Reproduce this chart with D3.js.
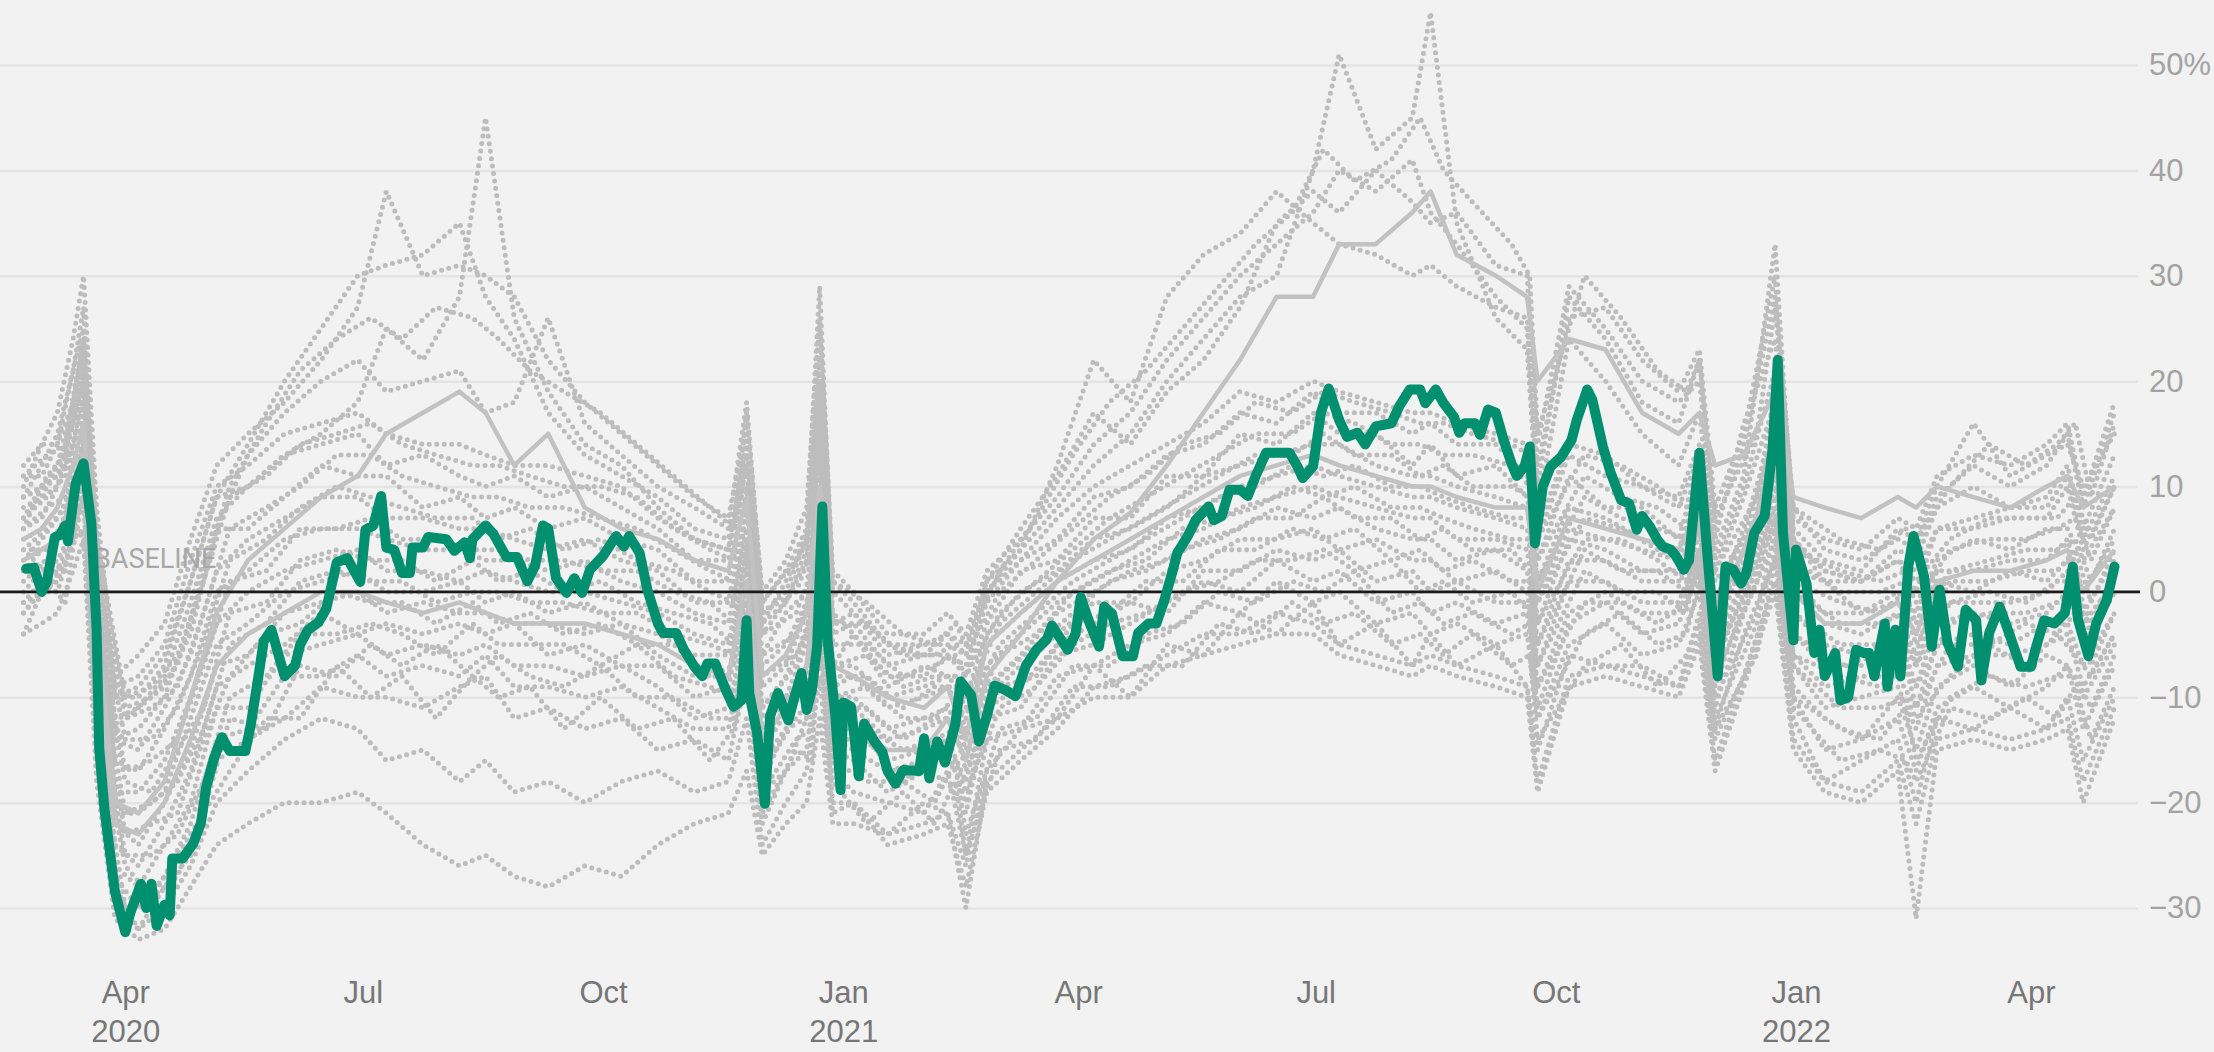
<!DOCTYPE html>
<html>
<head>
<meta charset="utf-8">
<script src="https://cdnjs.cloudflare.com/ajax/libs/d3/7.8.5/d3.min.js"></script>
<style>
  body { margin: 0; background: #f2f2f2; }
  svg { display: block; font-family: Roboto, "Noto Sans", sans-serif; }
</style>
</head>
<body>
<svg id="chart" width="2214" height="1052"></svg>
<script>

// ---- data ----
var yTicks = [-30, -20, -10, 0, 10, 20, 30, 40, 50];
var xTicks = ["2020-04-01","2020-07-01","2020-10-01","2021-01-01","2021-04-01","2021-07-01","2021-10-01","2022-01-01","2022-04-01"];
var xTickMonths = ["Apr","Jul","Oct","Jan","Apr","Jul","Oct","Jan","Apr"];
var xTickYears = ["2020","","","2021","","","","2022",""];

// two sets of sample dates for the grey lines
var greyDates = [
  "2020-02-22","2020-02-29","2020-03-06","2020-03-12","2020-03-16","2020-03-21","2020-03-28","2020-04-06","2020-04-16","2020-04-26",
  "2020-05-06","2020-05-18","2020-06-01","2020-06-15","2020-06-29","2020-07-10","2020-07-24","2020-08-07","2020-08-17","2020-08-28",
  "2020-09-10","2020-09-24","2020-10-08","2020-10-22","2020-11-05","2020-11-18","2020-11-25","2020-12-01","2020-12-10","2020-12-18",
  "2020-12-23","2020-12-28","2021-01-05","2021-01-18","2021-02-01","2021-02-10","2021-02-17","2021-02-25","2021-03-10","2021-03-24",
  "2021-04-07","2021-04-21","2021-05-05","2021-05-19","2021-06-02","2021-06-16","2021-06-30","2021-07-10","2021-07-24","2021-08-07",
  "2021-08-14","2021-08-24","2021-09-08","2021-09-20","2021-09-24","2021-10-06","2021-10-20","2021-11-03","2021-11-17","2021-11-25",
  "2021-12-01","2021-12-12","2021-12-24","2021-12-31","2022-01-12","2022-01-26","2022-02-09","2022-02-16","2022-02-24","2022-03-10",
  "2022-03-24","2022-04-07","2022-04-15","2022-04-21","2022-05-03"
];
var greyDatesB = [
  "2020-02-22","2020-03-02","2020-03-09","2020-03-13","2020-03-16","2020-03-21","2020-04-01","2020-04-11","2020-04-21","2020-05-01",
  "2020-05-11","2020-05-25","2020-06-07","2020-06-21","2020-07-04","2020-07-16","2020-07-29","2020-08-12","2020-08-22","2020-09-03",
  "2020-09-16","2020-09-30","2020-10-14","2020-10-28","2020-11-11","2020-11-20","2020-11-25","2020-12-01","2020-12-14","2020-12-20",
  "2020-12-23","2020-12-28","2021-01-10","2021-01-24","2021-02-05","2021-02-13","2021-02-17","2021-03-02","2021-03-16","2021-03-30",
  "2021-04-13","2021-04-27","2021-05-11","2021-05-25","2021-06-08","2021-06-22","2021-07-04","2021-07-16","2021-07-30","2021-08-10",
  "2021-08-19","2021-08-30","2021-09-14","2021-09-21","2021-09-24","2021-10-12","2021-10-26","2021-11-09","2021-11-20","2021-11-25",
  "2021-12-01","2021-12-17","2021-12-24","2021-12-31","2022-01-18","2022-02-02","2022-02-12","2022-02-16","2022-03-01","2022-03-16",
  "2022-03-30","2022-04-11","2022-04-18","2022-04-24","2022-05-03"
];

// dotted grey lines (other states), sampled on greyDates
var dotted1 = [-4,0,0,5,6,-15,-28,-32,-28,-25,-16,-14,-12,-9,-10,
  -10,-11,-9,-8,-12,-11,-13,-12,-15,-14,-16,-8,-22,-17,-15,
  -5,-20,-20,-23,-20,-21,-26,-17,-13,-12,-7,-10,-5,-6,-2,
  -4,-1,-5,-3,-7,-4,-7,-5,-9,-15,-6,-7,-7,-9,-2,
  -14,-8,1,-12,-18,-16,-14,-20,-12,-13,-11,-13,-10,-16,-10];
var dotted2 = [-1,1,2,6,9,-11,-27,-30,-27,-22,-14,-13,-8,-8,-6,
  -8,-7,-8,-6,-9,-9,-10,-9,-11,-13,-13,-5,-19,-17,-12,
  -2,-17,-19,-20,-21,-17,-25,-14,-13,-8,-7,-5,-4,-1,-2,
  1,-1,0,-3,-2,-4,-3,-5,-4,-12,-5,-3,-6,-5,0,
  -13,-4,3,-10,-15,-14,-12,-17,-11,-9,-11,-9,-7,-13,-7];
var dotted3 = [0,2,3,6,11,-9,-26,-28,-24,-20,-11,-11,-6,-5,-4,
  -6,-5,-6,-5,-7,-7,-8,-7,-9,-12,-11,-3,-18,-13,-12,
  1,-15,-16,-19,-17,-18,-21,-12,-11,-6,-5,-3,-1,1,0,
  3,1,2,-1,0,-2,-1,-3,-2,-11,-3,-1,-4,-3,2,
  -11,-2,5,-9,-12,-14,-10,-15,-9,-7,-9,-6,-7,-10,-5];
var dotted4 = [2,1,5,8,13,-8,-24,-26,-22,-17,-9,-7,-5,-2,-4,
  -3,-4,-3,-4,-3,-6,-5,-7,-7,-10,-9,-1,-16,-13,-8,
  2,-14,-15,-17,-16,-15,-20,-11,-9,-5,-3,-1,-2,2,2,
  4,3,4,1,2,0,1,-1,-1,-9,-2,0,-2,-2,3,
  -9,-1,7,-7,-11,-10,-9,-13,-7,-6,-6,-5,-4,-9,-4];
var dotted5 = [2,4,5,10,12,-7,-22,-24,-20,-15,-7,-6,-2,-1,0,
  -2,-1,-2,-2,-3,-3,-4,-3,-6,-8,-8,1,-14,-11,-7,
  3,-13,-13,-16,-15,-14,-18,-10,-7,-4,-1,-1,2,3,5,
  5,6,4,5,3,3,1,2,0,-7,1,1,-1,-1,4,
  -7,0,8,-6,-9,-8,-8,-11,-5,-4,-5,-3,-3,-7,-2];
var dotted6 = [3,5,7,10,15,-5,-21,-21,-19,-12,-5,-3,0,1,2,
  0,0,1,-1,0,-2,-1,-3,-4,-6,-6,3,-12,-10,-5,
  5,-12,-11,-14,-13,-12,-16,-9,-6,-2,0,2,3,5,6,
  8,7,8,6,5,5,3,4,2,-5,3,3,1,1,6,
  -6,1,10,-4,-7,-7,-6,-9,-3,-2,-3,-2,0,-5,0];
var dotted7 = [5,6,8,12,17,-3,-19,-19,-16,-10,-3,0,2,3,4,
  2,2,1,2,1,0,0,-1,-2,-4,-5,4,-11,-8,-4,
  7,-10,-10,-13,-12,-11,-14,-7,-4,-1,1,3,5,6,8,
  9,10,9,8,7,7,5,5,4,-3,5,4,2,2,7,
  -4,3,11,-2,-5,-6,-4,-7,-1,-1,-1,0,2,-3,1];
var dotted8 = [6,7,10,14,19,-2,-16,-17,-13,-8,0,2,5,6,6,
  5,4,4,3,3,2,3,1,0,-2,-3,6,-9,-7,-2,
  9,-9,-8,-11,-10,-9,-12,-5,-2,1,3,4,7,8,10,
  11,12,11,10,9,9,8,7,6,-1,6,5,4,3,8,
  -3,4,13,0,-3,-4,-2,-6,1,0,2,1,3,-2,3];
var dotted9 = [7,9,10,16,20,0,-14,-15,-11,-6,2,5,7,9,9,
  7,7,6,6,5,4,5,3,2,-1,-1,8,-7,-5,-1,
  12,-7,-7,-10,-9,-8,-10,-4,0,2,5,6,8,11,12,
  13,14,14,12,11,11,10,9,8,1,8,7,5,4,10,
  -1,5,15,1,-2,-2,-1,-3,2,2,3,3,5,0,5];
var dotted10 = [9,10,11,17,21,1,-13,-11,-9,-4,6,6,9,12,11,
  11,8,9,7,8,6,7,5,4,1,1,9,-6,-2,0,
  13,-7,-4,-9,-7,-8,-8,-3,2,3,7,7,11,11,15,
  14,17,15,15,12,14,11,12,9,3,11,8,8,5,12,
  -1,6,16,2,1,-2,0,-2,3,5,4,6,6,3,8];
var dotted11 = [11,11,14,18,24,4,-10,-10,-7,1,9,10,13,14,15,
  12,13,11,10,11,9,10,8,6,3,3,12,-3,-1,3,
  17,-4,-3,-7,-6,-6,-7,-1,3,5,9,10,13,14,17,
  16,19,17,17,15,16,14,14,11,5,13,11,10,8,13,
  2,9,18,5,1,1,3,0,6,6,7,7,10,4,10];
var dotted12 = [12,14,14,21,25,6,-9,-8,-5,3,10,12,15,16,17,
  15,14,14,13,12,12,11,10,7,5,4,15,-2,0,5,
  19,-3,-2,-6,-5,-5,-6,0,3,7,10,12,14,16,19,
  18,20,19,18,17,17,16,15,14,6,14,13,10,9,14,
  3,10,21,5,2,1,3,2,6,7,8,8,11,5,11];
var dottedHigh1 = [10,14,17,24,30,8,-8,-6,-3,5,12,15,18,22,27,
  38,30,31,30,28,22,18,15,12,9,7,16,0,3,8,
  26,2,0,-4,-4,-2,-4,2,5,9,14,17,22,26,30,
  33,36,40,38,41,36,33,28,25,10,28,24,18,16,22,
  6,14,28,8,4,3,5,4,9,12,10,12,15,8,17];
var dottedHigh2 = [6,10,12,18,22,3,-12,-11,-8,-1,7,10,13,15,18,
  25,22,28,45,26,19,14,12,8,5,4,12,-4,-1,4,
  20,-2,-4,-8,-8,-6,-8,0,4,8,12,15,20,24,28,
  30,40,51,42,45,55,35,26,23,8,24,20,15,12,17,
  4,11,33,5,2,1,4,3,8,10,8,9,12,6,13];
var dottedHigh3 = [8,9,12,16,21,2,-14,-13,-10,-3,6,13,17,20,22,
  19,20,21,17,18,26,16,13,10,8,6,18,-1,2,6,
  29,0,-2,-5,-5,-4,-5,1,6,11,17,14,19,22,27,
  35,38,36,40,37,35,36,31,30,14,29,25,20,18,20,
  5,16,24,6,3,2,6,5,10,16,11,13,14,10,15];
var dottedHigh4 = [9,12,15,21,27,6,-10,-9,-6,1,9,14,20,25,30,
  31,32,35,28,24,17,13,11,9,6,5,14,-3,1,5,
  22,1,-1,-5,-6,-4,-6,1,4,12,22,18,28,32,34,
  38,35,33,32,30,31,29,27,26,12,26,27,22,19,23,
  8,15,30,7,5,4,7,6,11,13,12,14,16,9,18];
var dottedLow1 = [-4,-3,-2,2,5,-18,-31,-33,-32,-28,-24,-22,-20,-20,-19,
  -21,-24,-26,-25,-27,-28,-26,-27,-24,-22,-21,-17,-25,-22,-20,
  -12,-22,-22,-23,-22,-21,-30,-18,-15,-12,-10,-10,-7,-6,-5,
  -4,-4,-6,-7,-8,-7,-8,-9,-10,-19,-9,-8,-9,-10,-5,
  -17,-9,0,-15,-19,-20,-17,-31,-15,-14,-15,-14,-13,-20,-12];
var dottedLow2 = [-2,0,1,5,9,-16,-30,-32,-30,-26,-20,-17,-14,-12,-13,
  -16,-15,-18,-16,-19,-18,-20,-18,-17,-19,-18,-12,-24,-20,-17,
  -8,-21,-20,-24,-23,-22,-28,-19,-16,-13,-9,-8,-6,-4,-4,
  -2,-3,-5,-6,-7,-6,-7,-8,-9,-18,-8,-7,-8,-9,-4,
  -16,-8,1,-14,-18,-19,-16,-22,-14,-13,-14,-13,-12,-18,-11];

// dotted grey lines sampled on greyDatesB
var dotted13 = [-2,1,-1,6,5,-13,-30,-29,-27,-21,-17,-12,-12,-7,-10,
  -8,-12,-8,-10,-9,-13,-10,-13,-12,-16,-13,-7,-21,-15,-16,
  -4,-18,-22,-19,-22,-18,-25,-15,-14,-9,-9,-7,-7,-3,-4,
  -1,-3,-2,-5,-4,-6,-4,-7,-6,-14,-7,-5,-9,-6,-3,
  -13,-6,3,-11,-16,-15,-16,-18,-11,-12,-10,-12,-9,-14,-9];
var dotted14 = [-1,0,3,5,10,-12,-26,-29,-25,-21,-12,-13,-7,-8,-5,
  -7,-5,-8,-6,-8,-9,-7,-10,-10,-12,-12,-4,-19,-14,-13,
  -1,-16,-18,-18,-20,-16,-23,-13,-12,-7,-7,-4,-3,0,-1,
  1,0,2,-2,-1,-3,-2,-4,-3,-12,-4,-2,-5,-4,1,
  -12,-3,4,-10,-13,-14,-11,-16,-10,-8,-9,-8,-8,-11,-6];
var dotted15 = [1,3,2,8,12,-9,-25,-25,-23,-18,-10,-8,-4,-4,-3,
  -4,-6,-3,-5,-5,-5,-7,-5,-8,-9,-10,-2,-17,-12,-10,
  2,-14,-14,-18,-15,-16,-19,-11,-9,-5,-3,-2,0,1,3,
  3,4,2,3,0,1,-1,0,-2,-9,-1,-1,-3,-1,2,
  -10,-2,6,-7,-11,-11,-10,-12,-8,-5,-7,-4,-6,-8,-4];
var dotted16 = [2,3,6,9,13,-7,-23,-22,-21,-14,-8,-4,-3,0,-1,
  -1,-3,-1,-3,-2,-4,-3,-5,-5,-8,-7,0,-15,-10,-8,
  4,-12,-13,-15,-14,-13,-17,-9,-8,-3,-2,1,1,4,4,
  6,5,6,3,4,2,3,1,1,-7,2,0,0,-2,4,
  -8,1,7,-6,-8,-9,-7,-11,-5,-5,-3,-4,-2,-7,-2];
var dotted17 = [4,4,7,11,14,-5,-21,-20,-18,-13,-5,-3,1,2,1,
  1,-1,0,0,-1,-1,-2,-2,-4,-5,-6,2,-13,-9,-6,
  6,-11,-11,-14,-12,-12,-15,-8,-5,-2,1,2,4,5,7,
  7,9,7,7,5,6,4,4,2,-5,4,2,2,0,6,
  -6,2,9,-4,-7,-6,-6,-9,-3,-2,-2,-1,0,-4,0];
var dotted18 = [4,6,8,13,16,-4,-18,-19,-15,-11,-2,-1,3,4,3,
  3,1,3,1,2,0,1,-1,-2,-3,-5,5,-11,-7,-3,
  7,-10,-9,-12,-12,-10,-13,-6,-4,0,2,3,6,7,8,
  10,9,10,8,8,7,6,5,5,-3,5,5,3,1,7,
  -4,3,12,-2,-5,-5,-4,-7,-1,0,-1,1,1,-3,2];
var dotted19 = [6,8,9,15,18,-2,-17,-16,-14,-7,1,2,6,6,7,
  5,5,4,4,3,3,2,2,0,-1,-3,6,-8,-6,-2,
  9,-8,-8,-11,-9,-9,-11,-5,-2,1,3,5,7,9,10,
  12,11,12,10,10,9,8,7,7,-1,7,6,4,3,9,
  -2,4,13,0,-3,-3,-2,-5,1,1,2,2,4,-1,4];
var dotted20 = [7,9,11,15,20,0,-14,-14,-11,-5,3,5,8,10,9,
  8,7,7,5,6,4,5,3,2,0,-1,8,-6,-4,0,
  11,-7,-6,-9,-8,-8,-10,-3,0,3,5,7,9,11,13,
  13,15,13,13,11,12,10,10,9,1,9,7,6,5,10,
  -1,6,15,1,-1,-2,0,-3,2,3,4,4,5,1,6];
var dotted21 = [9,10,12,18,22,2,-12,-11,-9,-2,6,8,10,13,13,
  11,10,9,9,8,8,7,6,4,2,1,10,-4,-2,2,
  14,-5,-5,-8,-7,-6,-8,-2,1,4,7,9,11,13,15,
  15,17,16,14,14,13,13,12,10,3,11,9,8,6,12,
  1,7,17,3,0,0,1,-1,4,5,5,6,7,3,8];
var dotted22 = [11,13,14,20,24,5,-10,-9,-6,1,9,11,14,15,16,
  14,13,12,12,11,10,10,9,6,4,3,13,-2,0,4,
  17,-3,-3,-6,-6,-5,-6,0,3,6,9,11,14,15,18,
  17,19,18,17,16,16,15,14,13,5,13,12,10,8,13,
  2,9,19,4,2,1,2,1,5,7,7,7,9,5,10];
var dottedHigh5 = [7,11,13,19,24,4,-11,-10,-7,2,10,16,21,24,26,
  24,27,26,24,21,19,17,14,11,8,6,17,-1,3,7,
  25,1,-1,-4,-5,-3,-5,2,7,13,18,21,25,29,33,
  36,42,39,41,45,40,37,33,30,15,30,26,21,19,22,
  7,15,27,8,5,4,6,5,10,14,12,14,16,9,16];

// solid grey lines, sampled on greyDates
var solid1 = [5,6,8,12,16,-3,-20,-21,-18,-10,-2,3,6,9,11,
  15,17,19,17,12,15,8,6,5,3,2,9,-8,-6,-2,
  10,-7,-8,-10,-11,-9,-14,-5,-2,1,3,5,7,9,11,
  12,13,12,11,10,10,9,8,8,0,7,6,5,4,8,
  -2,4,12,0,-3,-3,-1,-4,1,2,2,3,4,0,4];
var solid2 = [3,4,5,9,13,-6,-22,-23,-20,-14,-7,-4,-2,0,0,
  -1,-2,-1,-2,-3,-3,-3,-4,-5,-7,-8,1,-14,-11,-7,
  4,-12,-13,-15,-15,-12,-16,-8,-4,1,5,7.5,12,17,22,
  28,28,33,33,36,38,32,30,28,20,24,23,17,15,17,
  12,13,19,9,8,7,9,8,10,9,8,10,11,8,10];

// highlighted state (green)
var greenSeries = [
  ["2020-02-23",2.2],["2020-02-26",2.3],["2020-02-29",0],["2020-03-02",1],["2020-03-05",5.2],["2020-03-07",5.4],
  ["2020-03-09",6.3],["2020-03-10",4.8],["2020-03-13",10.3],["2020-03-16",12.2],["2020-03-19",6.5],["2020-03-21",-3.6],
  ["2020-03-22",-14.8],["2020-03-24",-20.6],["2020-03-28",-28.4],["2020-04-01",-32.3],["2020-04-03",-30.4],["2020-04-07",-27.7],
  ["2020-04-09",-30],["2020-04-11",-27.7],["2020-04-13",-31.7],["2020-04-16",-29.7],["2020-04-18",-30.7],["2020-04-19",-25.3],
  ["2020-04-23",-25.3],["2020-04-27",-23.9],["2020-04-30",-21.9],["2020-05-02",-18.5],["2020-05-05",-15.8],["2020-05-08",-13.8],
  ["2020-05-11",-15.1],["2020-05-17",-15.1],["2020-05-19",-12.7],["2020-05-22",-8],["2020-05-24",-4.7],["2020-05-27",-3.6],
  ["2020-06-01",-8],["2020-06-05",-7],["2020-06-07",-5],["2020-06-10",-3.6],["2020-06-14",-2.9],["2020-06-17",-1.6],
  ["2020-06-21",2.8],["2020-06-25",3.2],["2020-06-30",0.95],["2020-07-02",5.9],["2020-07-05",6.3],["2020-07-08",9.1],
  ["2020-07-10",4.2],["2020-07-13",4],["2020-07-16",1.8],["2020-07-19",1.8],["2020-07-20",4.2],["2020-07-24",4.2],
  ["2020-07-26",5.2],["2020-08-02",5],["2020-08-05",3.9],["2020-08-09",4.7],["2020-08-11",3.2],["2020-08-12",5],
  ["2020-08-17",6.3],["2020-08-20",5.5],["2020-08-25",3.3],["2020-08-29",3.3],["2020-09-02",1],["2020-09-05",2.5],
  ["2020-09-08",6.3],["2020-09-10",6],["2020-09-13",1.3],["2020-09-17",-0.1],["2020-09-20",1.3],["2020-09-23",-0.1],
  ["2020-09-26",2.1],["2020-10-01",3.4],["2020-10-06",5.3],["2020-10-09",4.3],["2020-10-11",5.3],["2020-10-15",3.7],
  ["2020-10-18",0.2],["2020-10-22",-3],["2020-10-24",-3.9],["2020-10-29",-3.9],["2020-11-01",-5.5],["2020-11-05",-7.1],
  ["2020-11-08",-8],["2020-11-10",-6.8],["2020-11-13",-6.8],["2020-11-17",-9.3],["2020-11-20",-10.9],["2020-11-23",-10.3],
  ["2020-11-25",-2.7],["2020-11-26",-9.6],["2020-11-29",-13.4],["2020-12-02",-20.1],["2020-12-04",-11.8],["2020-12-07",-9.6],
  ["2020-12-11",-12.2],["2020-12-13",-10.3],["2020-12-16",-7.7],["2020-12-18",-11.2],["2020-12-20",-9.3],["2020-12-22",-5.2],
  ["2020-12-24",8.1],["2020-12-26",-4.5],["2020-12-29",-11.8],["2020-12-31",-18.8],["2021-01-01",-10.5],["2021-01-04",-10.9],
  ["2021-01-07",-17.5],["2021-01-09",-12.5],["2021-01-13",-14.2],["2021-01-16",-15.2],["2021-01-18",-17],["2021-01-21",-18.2],
  ["2021-01-24",-16.9],["2021-01-30",-17],["2021-02-01",-13.9],["2021-02-03",-17.7],["2021-02-06",-14.2],["2021-02-09",-16.2],
  ["2021-02-13",-12.5],["2021-02-15",-8.5],["2021-02-19",-9.8],["2021-02-22",-14.2],["2021-02-25",-11.8],["2021-02-28",-8.9],
  ["2021-03-04",-9.3],["2021-03-08",-9.9],["2021-03-12",-7],["2021-03-16",-5.5],["2021-03-20",-4.5],["2021-03-22",-3.2],
  ["2021-03-28",-5.5],["2021-03-31",-4],["2021-04-02",-0.5],["2021-04-05",-2.7],["2021-04-09",-5.2],["2021-04-11",-1.4],
  ["2021-04-14",-2.1],["2021-04-18",-6.1],["2021-04-22",-6.1],["2021-04-24",-3.9],["2021-04-28",-3],["2021-05-01",-3],
  ["2021-05-04",-0.8],["2021-05-07",1.8],["2021-05-09",3.7],["2021-05-13",5.3],["2021-05-16",6.8],["2021-05-21",8.1],
  ["2021-05-23",6.8],["2021-05-26",7.2],["2021-05-29",9.7],["2021-06-02",9.7],["2021-06-05",9.1],["2021-06-08",11],
  ["2021-06-12",13.2],["2021-06-19",13.2],["2021-06-21",13.2],["2021-06-24",11.9],["2021-06-26",10.8],["2021-06-30",11.9],
  ["2021-07-03",17],["2021-07-06",19.3],["2021-07-10",16.3],["2021-07-13",14.7],["2021-07-17",15.1],["2021-07-20",14],
  ["2021-07-24",15.7],["2021-07-30",16],["2021-08-02",17.6],["2021-08-06",19.2],["2021-08-10",19.2],["2021-08-12",17.9],
  ["2021-08-16",19.2],["2021-08-19",17.9],["2021-08-23",16.6],["2021-08-25",15.1],["2021-08-27",16],["2021-08-31",16],
  ["2021-09-02",14.9],["2021-09-05",17.3],["2021-09-08",17],["2021-09-11",14.4],["2021-09-14",12.2],["2021-09-16",11],
  ["2021-09-19",11.9],["2021-09-21",13.8],["2021-09-23",4.6],["2021-09-26",10],["2021-09-29",11.9],["2021-10-03",12.8],
  ["2021-10-07",14.4],["2021-10-09",16.3],["2021-10-13",19.2],["2021-10-15",18.2],["2021-10-19",13.8],["2021-10-22",11.3],
  ["2021-10-26",8.7],["2021-10-29",8.4],["2021-11-01",5.9],["2021-11-03",7.2],["2021-11-06",6.2],["2021-11-09",4.9],
  ["2021-11-11",4.3],["2021-11-14",4],["2021-11-16",3.4],["2021-11-19",2.1],["2021-11-21",3],["2021-11-25",13.2],
  ["2021-11-28",3.7],["2021-12-02",-8],["2021-12-05",2.4],["2021-12-08",2.1],["2021-12-11",0.8],["2021-12-13",1.8],
  ["2021-12-16",5.6],["2021-12-20",7.2],["2021-12-23",13.5],["2021-12-25",22],["2021-12-27",5.6],["2021-12-31",-4.6],
  ["2022-01-01",4],["2022-01-05",0.8],["2022-01-08",-5.8],["2022-01-10",-3.6],["2022-01-12",-8],["2022-01-16",-5.8],
  ["2022-01-18",-10.3],["2022-01-21",-10],["2022-01-24",-5.5],["2022-01-27",-5.8],["2022-01-29",-5.8],["2022-01-31",-8],
  ["2022-02-04",-3],["2022-02-05",-9],["2022-02-08",-3.6],["2022-02-10",-8],["2022-02-13",2.4],["2022-02-15",5.3],
  ["2022-02-19",1.5],["2022-02-22",-5.2],["2022-02-25",0.2],["2022-02-28",-4.8],["2022-03-04",-7.1],["2022-03-07",-1.7],
  ["2022-03-11",-2.7],["2022-03-13",-8.4],["2022-03-16",-3.9],["2022-03-20",-1.4],["2022-03-24",-4.2],["2022-03-28",-7.1],
  ["2022-04-01",-7.1],["2022-04-03",-5.2],["2022-04-06",-2.7],["2022-04-10",-3],["2022-04-14",-2],["2022-04-17",2.4],
  ["2022-04-19",-2.6],["2022-04-23",-6.1],["2022-04-26",-3],["2022-04-30",-0.8],["2022-05-03",2.4]
];

var dottedA = [dotted1, dotted2, dotted3, dotted4, dotted5, dotted6, dotted7, dotted8, dotted9, dotted10,
  dotted11, dotted12, dottedHigh1, dottedHigh2, dottedHigh3, dottedHigh4, dottedLow1, dottedLow2];
var dottedB = [dotted13, dotted14, dotted15, dotted16, dotted17, dotted18, dotted19, dotted20, dotted21, dotted22, dottedHigh5];
var solidLines = [solid1, solid2];

// ---- chart ----
var W = 2214, H = 1052;
var plotRight = 2138;
var parse = d3.timeParse("%Y-%m-%d");

var svg = d3.select("#chart");

var x = d3.scaleTime()
  .domain([parse("2020-02-13"), parse("2022-05-12")])
  .range([0, plotRight]);
var y = d3.scaleLinear().domain([-30, 50]).range([908, 65]);

svg.append("rect").attr("width", W).attr("height", H).attr("fill", "#f2f2f2");

// gridlines + right labels
var yAxis = svg.append("g")
  .call(d3.axisRight(y).tickValues(yTicks).tickSize(plotRight).tickPadding(11)
    .tickFormat(d => d === 50 ? "50%" : (d < 0 ? "\u2212" + Math.abs(d) : d)));
yAxis.select(".domain").remove();
yAxis.selectAll("line").attr("stroke", "#e4e4e4").attr("stroke-width", 2.5);
yAxis.selectAll("text").attr("fill", "#a3a3a3").style("font-size", "31px");

// month labels
var xAxis = svg.append("g")
  .attr("transform", "translate(0,908)")
  .call(d3.axisBottom(x).tickValues(xTicks.map(parse)).tickSize(0).tickPadding(73)
    .tickFormat((d, i) => xTickMonths[i]));
xAxis.select(".domain").remove();
xAxis.selectAll("text").attr("fill", "#777").style("font-size", "31px");
xAxis.selectAll(".tick").each(function (d, i) {
  if (xTickYears[i]) {
    d3.select(this).append("text")
      .attr("y", 73).attr("dy", "1.96em")
      .attr("text-anchor", "middle")
      .attr("fill", "#777").style("font-size", "31px")
      .text(xTickYears[i]);
  }
});

function greyLine(dates) {
  return d3.line()
    .defined(d => d != null)
    .x((d, i) => x(parse(dates[i])))
    .y(d => y(d));
}

function drawDotted(series, dates) {
  svg.append("g").selectAll("path")
    .data(series).enter()
    .append("path")
      .attr("d", greyLine(dates))
      .attr("fill", "none")
      .attr("stroke", "#bdbdbd")
      .attr("stroke-width", 5)
      .attr("stroke-linecap", "round")
      .attr("stroke-dasharray", "0 7.5");
}
drawDotted(dottedA, greyDates);
drawDotted(dottedB, greyDatesB);

svg.append("g").selectAll("path")
  .data(solidLines).enter()
  .append("path")
    .attr("d", greyLine(greyDates))
    .attr("fill", "none")
    .attr("stroke", "#c2c2c2")
    .attr("stroke-width", 4.5)
    .attr("stroke-linejoin", "round");

svg.append("text")
  .attr("x", 94).attr("y", 568)
  .attr("fill", "#a8a8a8")
  .style("font-size", "27px")
  .text("BASELINE");

svg.append("line")
  .attr("x1", 0).attr("x2", plotRight + 2)
  .attr("y1", y(0)).attr("y2", y(0))
  .attr("stroke", "#1a1a1a").attr("stroke-width", 2.6);

var greenLine = d3.line()
  .x(d => x(parse(d[0])))
  .y(d => y(d[1]));

svg.append("path")
  .datum(greenSeries)
  .attr("d", greenLine)
  .attr("fill", "none")
  .attr("stroke", "#00906f")
  .attr("stroke-width", 10)
  .attr("stroke-linejoin", "round")
  .attr("stroke-linecap", "round");

</script>
</body>
</html>
